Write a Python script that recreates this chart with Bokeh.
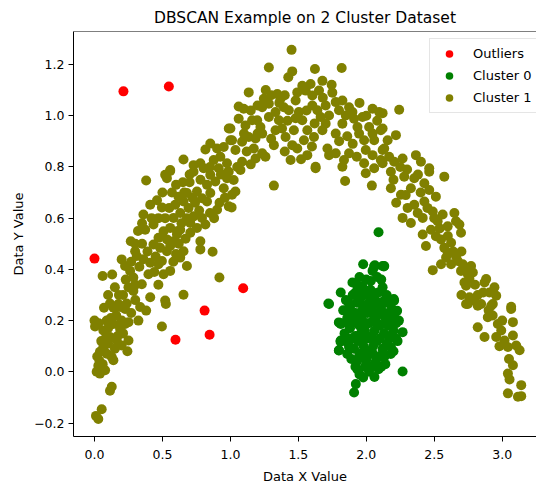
from bokeh.plotting import figure
from bokeh.models import ColumnDataSource, Range1d, FixedTicker, Span, Legend, LegendItem
from bokeh.embed import file_html
from bokeh.resources import INLINE

# --- DBSCAN result on a two-moons style dataset ---------------------------

outlier_x = [0.213, 0.547, 0.0, 0.81, 0.847, 0.596, 1.094]
outlier_y = [1.095, 1.114, 0.442, 0.239, 0.145, 0.125, 0.326]

cluster0_x = [
    2.09, 1.977, 2.058, 2.12, 2.046, 1.898, 2.033, 1.812, 1.721, 1.947, 2.132, 2.132,
    2.205, 2.107, 2.157, 2.267, 2.181, 2.132, 2.267, 1.726, 1.812, 1.812, 1.799, 1.873,
    1.935, 1.977, 1.923, 1.91, 1.849, 1.947, 2.046, 1.996, 2.12,
    1.85, 1.88, 1.9, 1.93, 1.96, 2.0, 2.03, 2.06, 2.09, 2.12, 2.15, 2.18,
    1.86, 1.9, 1.94, 1.97, 2.01, 2.04, 2.08, 2.11, 2.14, 2.19,
    1.84, 1.88, 1.92, 1.95, 1.99, 2.02, 2.06, 2.1, 2.13, 2.17, 2.2,
    1.87, 1.91, 1.94, 1.98, 2.01, 2.05, 2.08, 2.12, 2.15, 2.2,
    1.89, 1.93, 1.97, 2.0, 2.03, 2.07, 2.1, 2.14, 1.95, 2.02, 2.06, 2.09,
    2.0, 1.95, 2.08, 1.93, 2.02, 1.97, 2.05, 2.0, 1.9, 2.16, 2.13, 1.83, 1.82,
    2.24, 2.23, 2.11, 2.06, 2.04, 1.96, 1.98, 2.07,
    1.87, 1.95, 2.04, 2.1, 2.17, 1.88, 1.92, 1.99, 2.06, 2.16, 2.21,
    1.86, 1.93, 2.0, 2.08, 2.14, 2.22, 1.85, 1.89, 1.97, 2.03, 2.1, 2.17, 2.22,
    1.86, 1.95, 2.05, 2.12, 2.18, 1.92, 1.99, 2.04, 2.11, 1.92, 1.98, 2.05,
    2.063, 2.129, 1.97, 2.202, 2.227, 1.798, 1.81, 1.798,
]
cluster0_y = [
    0.545, 0.42, 0.413, 0.413, 0.394, 0.349, 0.355, 0.31, 0.267, 0.323, 0.413, 0.278,
    0.278, 0.252, 0.2, 0.155, 0.097, 0.058, 0.001, 0.265, 0.187, 0.122, 0.084, 0.097,
    0.009, -0.022, -0.048, -0.081, 0.239, 0.058, 0.024, 0.044, 0.058,
    0.28, 0.25, 0.3, 0.27, 0.29, 0.3, 0.32, 0.29, 0.31, 0.33, 0.3, 0.26,
    0.21, 0.2, 0.22, 0.24, 0.23, 0.25, 0.22, 0.24, 0.21, 0.2,
    0.15, 0.17, 0.14, 0.18, 0.16, 0.19, 0.16, 0.18, 0.15, 0.14, 0.16,
    0.11, 0.09, 0.12, 0.1, 0.13, 0.1, 0.12, 0.09, 0.11, 0.08,
    0.05, 0.04, 0.07, 0.05, 0.07, 0.04, 0.06, 0.03, -0.01, 0.0, -0.02, 0.01,
    0.36, 0.37, 0.37, 0.34, 0.27, 0.2, 0.2, 0.08, 0.13, 0.18, 0.27, 0.24, 0.19,
    0.2, 0.12, 0.36, 0.41, 0.14, 0.15, 0.26, 0.27,
    0.27, 0.27, 0.27, 0.27, 0.27, 0.23, 0.23, 0.23, 0.23, 0.23, 0.23,
    0.19, 0.19, 0.19, 0.19, 0.19, 0.19, 0.13, 0.13, 0.13, 0.13, 0.13, 0.13, 0.13,
    0.07, 0.07, 0.07, 0.07, 0.07, 0.02, 0.02, 0.02, 0.02, 0.31, 0.31, 0.31,
    0.416, 0.411, 0.335, 0.284, 0.238, 0.193, 0.118, 0.083,
]

cluster1_x = [
    # lower-left tail
    0.0, 0.004, 0.016, 0.04, 0.078, 0.028, 0.036, 0.114, 0.127, 0.053, 0.011, 0.028,
    0.242, 0.139, 0.09, 0.139, 0.065, 0.188, 0.225, 0.25, 0.114, 0.164, 0.2, 0.25,
    0.065, 0.04, 0.09, 0.127, 0.188, 0.225, 0.06, 0.114, 0.176, 0.237, 0.286, 0.2,
    0.225, 0.262, 0.286, 0.323, 0.38, 0.336, 0.525, 0.496,
    0.1, 0.15, 0.17, 0.21, 0.08, 0.12, 0.16, 0.2, 0.14, 0.27, 0.3, 0.21, 0.25, 0.23,
    0.03, 0.05, 0.1, 0.02, 0.06,
    0.07, 0.1, 0.15, 0.18, 0.13, 0.27, 0.3, 0.32, 0.35,
    # rising left flank
    0.38, 0.533, 0.557, 0.41, 0.36, 0.496, 0.373, 0.434, 0.267, 0.299, 0.311, 0.348,
    0.41, 0.52, 0.655, 0.397, 0.41, 0.471, 0.508, 0.557, 0.496, 0.68, 0.631, 0.655,
    0.434, 0.483, 0.533, 0.557, 0.471, 0.533, 0.582, 0.607, 0.508, 0.557, 0.607, 0.631,
    0.582, 0.631, 0.594, 0.655, 0.618, 0.68, 0.692, 0.729, 0.705, 0.791, 0.816, 0.754,
    0.705, 0.779, 0.779, 0.869, 0.919, 0.754, 0.791, 0.828, 0.902, 0.852, 0.828, 0.889,
    0.951, 0.975, 0.988, 0.729, 0.803, 0.852, 0.914, 0.52,
    0.988, 0.852, 0.816, 0.902, 0.951, 1.0, 0.655, 0.557, 0.729, 0.779, 0.877, 0.926,
    0.975,
    0.35, 0.39, 0.45, 0.42, 0.47, 0.52, 0.55, 0.46, 0.5, 0.57, 0.6, 0.65, 0.7, 0.74,
    0.77, 0.85, 0.88, 0.92, 0.96, 0.7, 0.78, 0.85, 0.93, 0.98, 0.33, 0.36, 0.3, 0.44,
    0.47, 0.6, 0.58, 0.62, 0.67, 0.68, 0.64, 0.72, 0.66,
    # crest
    1.45, 1.283, 1.455, 1.426, 1.622, 1.819, 1.135, 1.061, 1.098, 1.061, 1.0, 1.012,
    1.492, 1.529, 1.59, 1.677, 1.745, 1.652, 1.603, 1.554, 1.48, 1.345, 1.369, 1.246,
    1.283, 1.393, 1.332, 1.234, 1.197, 1.16, 1.111, 1.283, 1.357, 1.43, 1.504, 1.529,
    1.566, 1.467, 1.406, 1.455, 1.332, 1.32, 1.443, 1.221, 1.234, 1.185, 1.135, 1.086,
    1.172, 1.234, 1.185, 1.258, 1.037, 1.086, 1.627, 1.566, 1.492, 1.541, 1.615, 1.677,
    1.701, 1.664, 1.64, 1.603, 1.701, 1.726, 1.775, 1.824, 1.799, 1.849, 1.873, 1.898,
    1.91, 1.824, 1.775, 1.714, 1.775, 1.836, 1.726, 1.873, 1.935, 1.972, 1.947, 1.984,
    2.046, 2.095, 2.021, 2.046, 2.058, 2.107, 1.996, 2.046, 2.12, 2.107, 1.984, 1.824,
    0.988, 1.074, 1.024, 1.037, 1.012, 1.32, 1.009, 1.627, 1.844, 1.996, 2.041, 2.058,
    1.12, 1.2, 1.3, 1.38, 1.42, 1.48, 1.56, 1.62, 1.68, 1.75, 1.8, 1.86, 1.9, 1.95,
    2.0, 1.26, 1.2, 1.15, 1.36, 1.4, 1.3, 1.05, 1.1, 1.6, 1.52, 1.4, 1.15, 1.93, 2.08,
    # falling right flank
    2.12, 2.242, 2.12, 2.157, 2.218, 2.132, 2.168, 2.205, 2.267, 2.12, 2.365, 2.402,
    2.463, 2.463, 2.574, 2.181, 2.279, 2.353, 2.181, 2.255, 2.328, 2.427, 2.463, 2.512,
    2.427, 2.353, 2.304, 2.378, 2.267, 2.328, 2.415, 2.489, 2.562, 2.525, 2.648, 2.66,
    2.599, 2.685, 2.697, 2.476, 2.415, 2.439, 2.512, 2.55, 2.624, 2.574, 2.599, 2.587,
    2.55, 2.489, 2.624, 2.673, 2.71, 2.771, 2.697, 2.747, 2.784, 2.722, 2.759, 2.734,
    2.882, 2.87, 2.943, 2.906, 2.956, 2.759, 2.796, 2.845, 2.747, 2.931, 3.066,
    2.734, 2.82, 2.919, 3.066, 3.079, 2.82, 2.87, 2.894, 2.968, 2.993, 2.956, 3.017,
    3.079, 3.042, 3.103, 3.128, 3.079, 3.042, 3.054, 3.14, 3.042, 3.116, 3.14,
    2.2, 2.25, 2.3, 2.22, 2.4, 2.38, 2.29, 2.45, 2.5, 2.54, 2.6, 2.64, 2.66, 2.7,
    2.73, 2.8, 2.82, 2.86, 2.9, 2.93, 3.0, 2.98, 3.05, 2.7,
]
cluster1_y = [
    # lower-left tail
    0.2, 0.177, 0.0, -0.007, 0.006, 0.024, 0.043, -0.074, -0.058, -0.146, -0.172, -0.184,
    0.08, 0.045, 0.2, 0.187, 0.161, 0.168, 0.187, 0.194, 0.136, 0.122, 0.103, 0.122,
    0.097, 0.078, 0.071, 0.058, 0.253, 0.245, 0.374, 0.267, 0.265, 0.267, 0.316, 0.439,
    0.413, 0.394, 0.368, 0.2, 0.239, 0.253, 0.265, 0.177,
    0.11, 0.09, 0.14, 0.15, 0.13, 0.21, 0.22, 0.2, 0.25, 0.23, 0.28, 0.3, 0.33, 0.36,
    0.19, 0.12, 0.17, 0.06, 0.03,
    0.25, 0.3, 0.33, 0.3, 0.38, 0.43, 0.5, 0.55, 0.58,
    # rising left flank
    0.747, 0.756, 0.784, 0.652, 0.614, 0.642, 0.555, 0.575, 0.51, 0.471, 0.452, 0.342,
    0.291, 0.278, 0.301, 0.381, 0.426, 0.42, 0.381, 0.394, 0.433, 0.413, 0.446, 0.471,
    0.497, 0.484, 0.471, 0.491, 0.523, 0.517, 0.51, 0.536, 0.549, 0.562, 0.549, 0.555,
    0.601, 0.62, 0.652, 0.665, 0.684, 0.698, 0.64, 0.607, 0.581, 0.601, 0.575, 0.562,
    0.543, 0.51, 0.478, 0.469, 0.368, 0.704, 0.678, 0.665, 0.633, 0.698, 0.73, 0.743,
    0.717, 0.756, 0.646, 0.781, 0.795, 0.769, 0.795, 0.769,
    0.95, 0.891, 0.868, 0.872, 0.878, 0.904, 0.829, 0.788, 0.807, 0.814, 0.827, 0.84,
    0.814,
    0.5, 0.47, 0.45, 0.6, 0.6, 0.6, 0.64, 0.67, 0.7, 0.7, 0.73, 0.74, 0.74, 0.66,
    0.63, 0.62, 0.6, 0.66, 0.68, 0.77, 0.75, 0.8, 0.77, 0.78, 0.41, 0.44, 0.34, 0.39,
    0.34, 0.46, 0.43, 0.5, 0.52, 0.6, 0.58, 0.68, 0.7,
    # crest
    1.257, 1.188, 1.173, 1.15, 1.182, 1.186, 1.091, 1.036, 1.027, 0.988, 0.95, 0.904,
    1.091, 1.117, 1.124, 1.136, 1.121, 1.098, 1.079, 1.098, 1.059, 1.085, 1.066, 1.066,
    1.047, 1.033, 1.014, 1.033, 0.982, 0.982, 0.962, 0.995, 0.982, 1.021, 1.014, 0.982,
    0.943, 0.943, 0.917, 0.885, 0.943, 0.885, 0.827, 0.956, 0.93, 0.911, 0.917, 0.898,
    0.872, 0.853, 0.833, 0.84, 0.866, 0.82, 0.801, 0.846, 0.872, 0.904, 0.917, 0.943,
    0.969, 0.995, 1.021, 1.04, 1.04, 1.001, 1.053, 1.059, 1.021, 1.001, 1.033, 1.014,
    0.988, 0.969, 0.93, 0.872, 0.853, 0.827, 0.846, 0.853, 0.956, 0.995, 0.93, 0.904,
    1.027, 1.014, 0.956, 0.93, 0.904, 0.943, 0.866, 0.846, 0.866, 0.827, 0.814, 0.801,
    0.781, 0.788, 0.749, 0.704, 0.691, 0.727, 0.642, 0.795, 0.745, 0.775, 0.727, 0.795,
    0.86, 0.93, 0.91, 0.95, 0.98, 0.99, 1.02, 0.97, 1.07, 1.09, 0.9, 0.92, 0.89, 1.05,
    1.0, 1.1, 1.04, 1.02, 1.05, 1.08, 1.08, 0.8, 0.93, 0.88, 0.83, 0.86, 0.81, 0.84, 0.98,
    # falling right flank
    1.01, 1.023, 0.95, 0.904, 0.924, 0.872, 0.84, 0.82, 0.833, 0.814, 0.846, 0.82,
    0.795, 0.781, 0.762, 0.781, 0.762, 0.756, 0.717, 0.691, 0.717, 0.736, 0.71, 0.684,
    0.665, 0.652, 0.64, 0.62, 0.601, 0.581, 0.601, 0.626, 0.614, 0.588, 0.62, 0.588,
    0.568, 0.575, 0.543, 0.555, 0.536, 0.491, 0.529, 0.517, 0.504, 0.484, 0.465, 0.446,
    0.42, 0.397, 0.42, 0.433, 0.42, 0.413, 0.394, 0.381, 0.388, 0.349, 0.362, 0.336,
    0.362, 0.349, 0.33, 0.31, 0.297, 0.291, 0.278, 0.265, 0.265, 0.265, 0.254,
    0.265, 0.258, 0.258, 0.245, 0.194, 0.174, 0.136, 0.213, 0.187, 0.161, 0.136, 0.122,
    0.142, 0.097, 0.103, 0.084, 0.026, -0.007, -0.03, -0.052, -0.084, -0.097, -0.095,
    0.75, 0.8, 0.79, 0.66, 0.7, 0.77, 0.69, 0.64, 0.6, 0.56, 0.53, 0.47, 0.45, 0.47,
    0.4, 0.34, 0.3, 0.31, 0.24, 0.22, 0.2, 0.1, 0.05, 0.3,
]

x_ticks = [0.0, 0.5, 1.0, 1.5, 2.0, 2.5, 3.0]
x_tick_labels = ["0.0", "0.5", "1.0", "1.5", "2.0", "2.5", "3.0"]
y_ticks = [-0.2, 0.0, 0.2, 0.4, 0.6, 0.8, 1.0, 1.2]
y_tick_labels = ["\u22120.2", "0.0", "0.2", "0.4", "0.6", "0.8", "1.0", "1.2"]

groups = [
    ("Outliers", outlier_x, outlier_y, "#ff0000"),
    ("Cluster 0", cluster0_x, cluster0_y, "#008000"),
    ("Cluster 1", cluster1_x, cluster1_y, "#808000"),
]

FONT = "DejaVu Sans"
Y_TOP = 1.3287

p = figure(
    width=536, height=486,
    x_range=Range1d(-0.1545, 3.2524), y_range=Range1d(-0.2525, Y_TOP),
    output_backend="svg", toolbar_location=None,
    min_border_left=73, min_border_right=0, min_border_top=31, min_border_bottom=48,
)
p.background_fill_color = "white"
p.border_fill_color = "white"
p.outline_line_color = None
p.grid.visible = False

p.title.text = "DBSCAN Example on 2 Cluster Dataset"
p.title.align = "center"
p.title.text_font = FONT
p.title.text_font_size = "15.5px"
p.title.text_font_style = "normal"
p.title.text_color = "black"

items = []
for name, xs, ys, color in groups:
    src = ColumnDataSource(dict(x=xs, y=ys))
    r = p.scatter("x", "y", source=src, size=10, fill_color=color, line_color=None)
    items.append(LegendItem(label=name, renderers=[r]))

# top spine (the right edge of the axes box lies just past the canvas)
p.add_layout(Span(location=Y_TOP, dimension="width", line_color="black", line_width=1))

for ax, ticks, labels in ((p.xaxis[0], x_ticks, x_tick_labels), (p.yaxis[0], y_ticks, y_tick_labels)):
    ax.ticker = FixedTicker(ticks=ticks)
    ax.major_label_overrides = {t: l for t, l in zip(ticks, labels)}
    ax.minor_tick_line_color = None
    ax.major_tick_in = 0
    ax.major_tick_out = 5
    ax.major_tick_line_color = "black"
    ax.axis_line_color = "black"
    ax.major_label_text_font = FONT
    ax.major_label_text_font_size = "12.5px"
    ax.major_label_text_color = "black"
    ax.axis_label_text_font = FONT
    ax.axis_label_text_font_size = "13px"
    ax.axis_label_text_font_style = "normal"
    ax.axis_label_text_color = "black"

p.xaxis.axis_label = "Data X Value"
p.yaxis.axis_label = "Data Y Value"
p.xaxis.major_label_standoff = 8
p.yaxis.major_label_standoff = 4
p.xaxis.axis_label_standoff = 7
p.yaxis.axis_label_standoff = 5

legend = Legend(
    items=items, location=(356, 323), margin=0, padding=5, spacing=3,
    glyph_width=28, glyph_height=19, label_height=19, label_standoff=10,
    label_text_font=FONT, label_text_font_size="13px", label_text_color="black",
    border_line_color="#cccccc", border_line_width=1,
    background_fill_color="white", background_fill_alpha=0.8,
)
p.add_layout(legend, "center")

open("out.html", "w").write(file_html(p, INLINE))
